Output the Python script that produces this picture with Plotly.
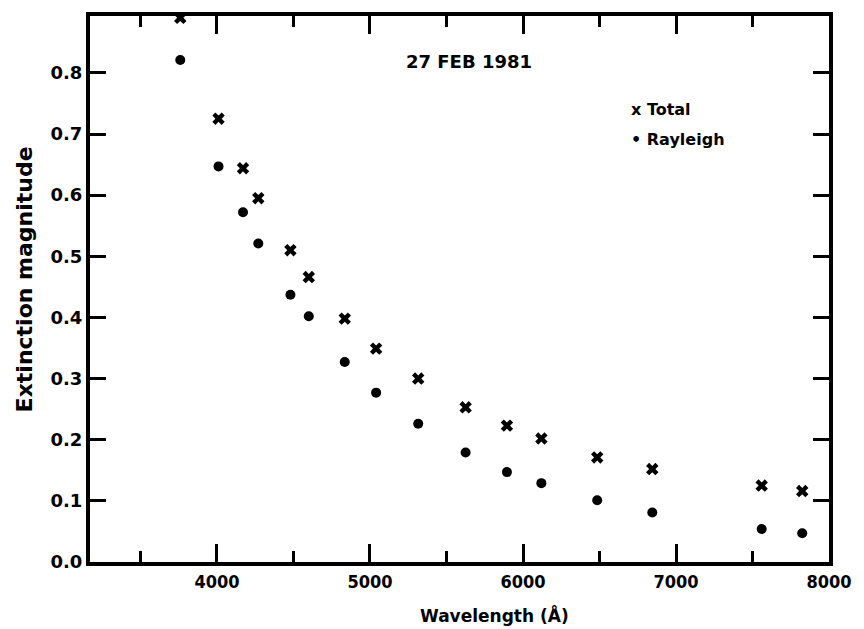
import plotly.graph_objects as go

# Data
wavelength = [3760, 4010, 4170, 4270, 4480, 4600, 4835, 5040, 5315, 5625,
              5895, 6120, 6485, 6845, 7560, 7825]
total = [0.890, 0.725, 0.644, 0.595, 0.510, 0.466, 0.398, 0.349, 0.300, 0.253,
         0.223, 0.202, 0.171, 0.152, 0.125, 0.116]
rayleigh = [0.821, 0.647, 0.572, 0.521, 0.437, 0.402, 0.327, 0.277, 0.226, 0.179,
            0.147, 0.129, 0.101, 0.081, 0.054, 0.047]

x_tick_vals = [4000, 5000, 6000, 7000, 8000]
x_tick_text = ["4000", "5000", "6000", "7000", "8000"]
y_tick_vals = [0.0, 0.1, 0.2, 0.3, 0.4, 0.5, 0.6, 0.7, 0.8]
y_tick_text = ["0.0", "0.1", "0.2", "0.3", "0.4", "0.5", "0.6", "0.7", "0.8"]

title_text = "27 FEB 1981"
legend_total = "x Total"
legend_rayleigh = "\u2022 Rayleigh"
x_title = "Wavelength (\u00c5)"
y_title = "Extinction magnitude"

FONT = "DejaVu Sans"
FONT_C = "DejaVu Sans Condensed"

fig = go.Figure()
fig.add_trace(go.Scatter(
    x=wavelength, y=total, mode="markers", name="Total",
    marker=dict(symbol="x", size=11, color="black", line=dict(width=0)),
    showlegend=False,
))
fig.add_trace(go.Scatter(
    x=wavelength, y=rayleigh, mode="markers", name="Rayleigh",
    marker=dict(symbol="circle", size=10, color="black", line=dict(width=0)),
    showlegend=False,
))

fig.update_layout(
    width=864, height=629,
    margin=dict(l=90, r=24, t=14, b=67, pad=0),
    paper_bgcolor="white", plot_bgcolor="white",
    font=dict(family=FONT, color="black"),
    xaxis=dict(
        range=[3170, 8000], showgrid=False, zeroline=False,
        showline=True, linewidth=4, linecolor="black", mirror="ticks",
        ticks="inside", ticklen=18, tickwidth=3, tickcolor="black",
        tickvals=x_tick_vals, ticktext=x_tick_text,
        tickfont=dict(family=FONT_C, size=18, weight="bold"),
        minor=dict(dtick=500, tick0=3500, ticks="inside", ticklen=11,
                   tickwidth=3, tickcolor="black", showgrid=False),
    ),
    yaxis=dict(
        range=[0, 0.893], showgrid=False, zeroline=False,
        showline=True, linewidth=4, linecolor="black", mirror="ticks",
        ticks="inside", ticklen=16, tickwidth=3, tickcolor="black",
        tickvals=y_tick_vals, ticktext=y_tick_text,
        tickfont=dict(family=FONT, size=18, weight="bold"),
    ),
    annotations=[
        dict(text=title_text, xref="paper", yref="paper", x=0.513, y=0.916,
             xanchor="center", yanchor="middle", showarrow=False,
             font=dict(family=FONT, size=18, weight="bold")),
        dict(text=legend_total, xref="paper", yref="paper", x=0.729, y=0.828,
             xanchor="left", yanchor="middle", showarrow=False,
             font=dict(family=FONT, size=16, weight="bold")),
        dict(text=legend_rayleigh, xref="paper", yref="paper", x=0.729, y=0.774,
             xanchor="left", yanchor="middle", showarrow=False,
             font=dict(family=FONT, size=16, weight="bold")),
        dict(text=x_title, xref="paper", yref="paper", x=0.547, y=-0.097,
             xanchor="center", yanchor="middle", showarrow=False,
             font=dict(family=FONT, size=17, weight="bold")),
        dict(text=y_title, xref="paper", yref="paper", x=-0.089, y=0.518,
             xanchor="center", yanchor="middle", showarrow=False, textangle=-90,
             font=dict(family=FONT, size=22, weight="bold")),
    ],
)

fig.write_html("out.html")
